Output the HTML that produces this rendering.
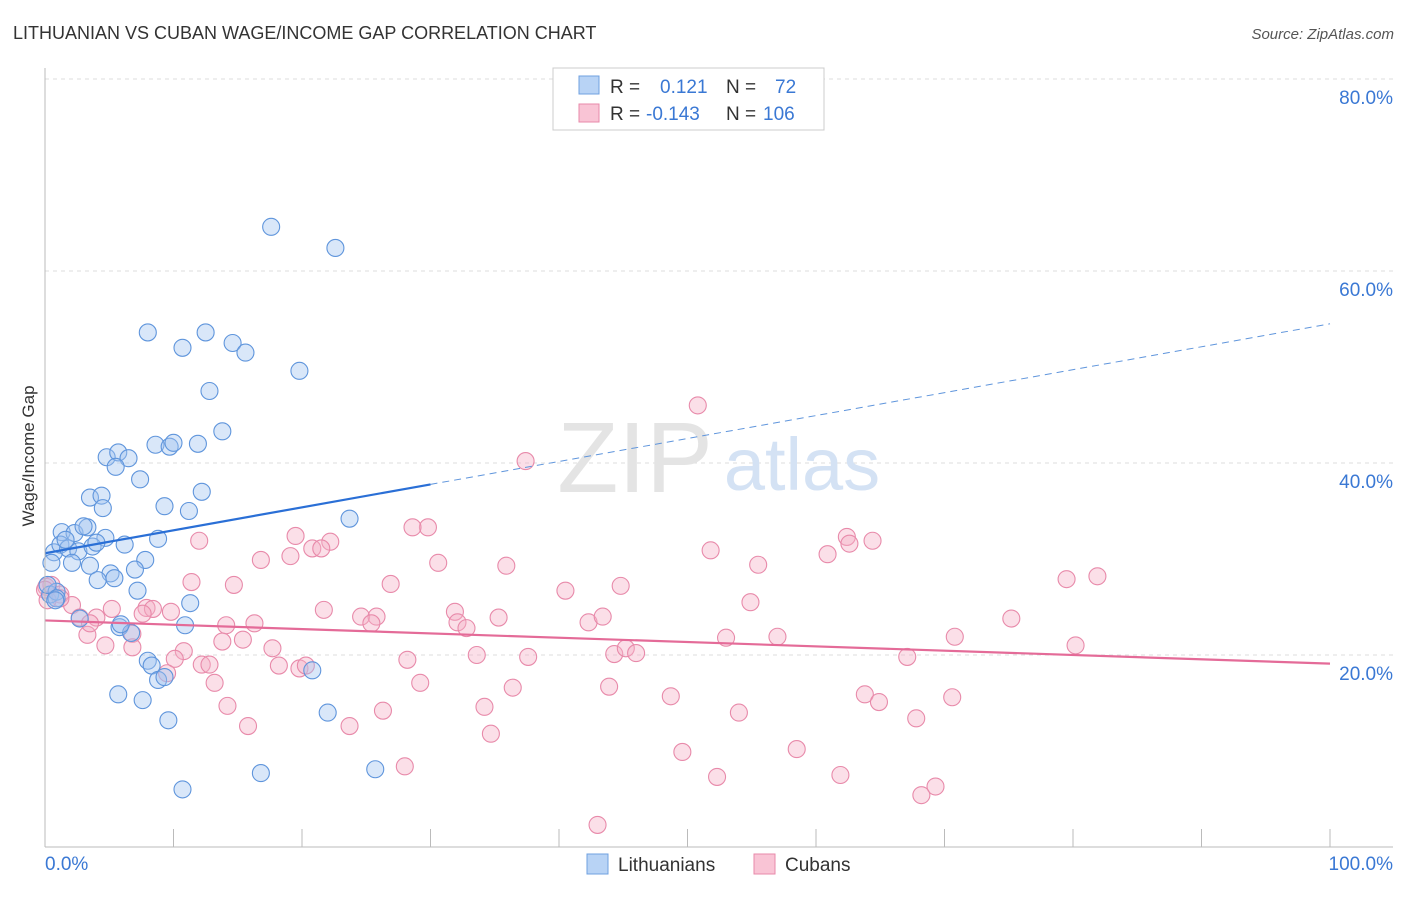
<!DOCTYPE html>
<html><head><meta charset="utf-8"><style>
body{margin:0;background:#fff;font-family:"Liberation Sans",sans-serif}
svg text{font-family:"Liberation Sans",sans-serif}
</style></head><body>
<svg id="chart" width="1406" height="892" xmlns="http://www.w3.org/2000/svg">
<text x="13" y="39" font-size="18" fill="#333">LITHUANIAN VS CUBAN WAGE/INCOME GAP CORRELATION CHART</text>
<text x="1394" y="39" font-size="15" font-style="italic" fill="#555" text-anchor="end">Source: ZipAtlas.com</text>
<text transform="translate(34,456) rotate(-90)" font-size="17" fill="#333" text-anchor="middle">Wage/Income Gap</text>
<g id="grid"></g>
<g id="wm">
<text x="635" y="492" font-size="100" fill="#e4e4e4" font-family="Liberation Serif" text-anchor="middle">ZIP</text>
<text x="802" y="490" font-size="74" fill="#d4e2f4" text-anchor="middle">atlas</text>
</g>
<g id="pts"></g>
<g id="trends"></g>
<g id="axes"></g>
<g>
<rect x="553" y="68" width="271" height="62" fill="#fff" stroke="#ccc"/>
<rect x="579" y="76" width="20" height="18" fill="#b8d3f5" stroke="#6fa0e0"/>
<rect x="579" y="104" width="20" height="18" fill="#f9c4d5" stroke="#e88aaa"/>
<text x="610" y="93" font-size="19" fill="#333">R = <tspan x="660" fill="#3a78d4">0.121</tspan><tspan x="726">N =</tspan><tspan x="775" fill="#3a78d4">72</tspan></text>
<text x="610" y="120" font-size="19" fill="#333">R = <tspan x="646" fill="#3a78d4">-0.143</tspan><tspan x="726">N =</tspan><tspan x="763" fill="#3a78d4">106</tspan></text>
</g>
<g>
<rect x="587" y="854" width="21" height="20" fill="#b8d3f5" stroke="#6fa0e0"/>
<text x="618" y="871" font-size="19" fill="#333">Lithuanians</text>
<rect x="754" y="854" width="21" height="20" fill="#f9c4d5" stroke="#e88aaa"/>
<text x="785" y="871" font-size="19" fill="#333">Cubans</text>
</g>
</svg>
<script>
const yTicks=[20,40,60,80];
const yTickLabels=["20.0%","40.0%","60.0%","80.0%"];
const xTickCount=10;
const xAxisLabels=["0.0%","100.0%"];
const blueX=[17.6,22.6,8.0,12.5,10.7,14.6,15.6,19.8,12.8,13.8,4.8,5.7,6.5,5.5,8.6,9.7,10.0,11.9,7.4,3.5,4.4,4.5,9.3,11.2,12.2,23.7,1.3,2.3,3.3,3.0,4.7,8.8,0.7,1.2,1.8,2.6,3.7,4.0,6.2,7.8,0.5,2.1,3.5,5.1,5.4,4.1,7.0,7.2,0.4,0.9,11.3,2.7,5.8,6.7,10.9,8.0,8.3,8.8,9.3,20.8,5.7,7.6,9.6,22.0,16.8,25.7,10.7,0.2,0.9,1.6,5.9,0.8];
const blueY=[64.6,62.4,53.6,53.6,52.0,52.5,51.5,49.6,47.5,43.3,40.6,41.1,40.5,39.6,41.9,41.7,42.1,42.0,38.3,36.4,36.6,35.3,35.5,35.0,37.0,34.2,32.8,32.7,33.3,33.4,32.2,32.1,30.7,31.5,31.1,30.8,31.3,31.7,31.5,29.9,29.6,29.6,29.3,28.5,28.0,27.8,28.9,26.7,26.3,26.6,25.4,23.8,22.9,22.3,23.1,19.4,18.9,17.4,17.7,18.4,15.9,15.3,13.2,14.0,7.7,8.1,6.0,27.3,25.9,32.0,23.2,25.7];
const pinkX=[50.8,37.4,29.8,28.6,19.5,22.2,20.8,21.5,12.0,16.8,19.1,30.6,35.9,51.8,60.9,62.4,62.6,64.4,55.5,79.5,81.9,11.4,14.7,26.9,40.5,44.8,0.1,0.5,1.2,2.1,2.7,4.0,5.2,7.9,8.4,7.6,9.8,14.1,16.3,21.7,24.6,25.8,25.4,31.9,32.1,32.8,35.3,42.3,43.4,54.9,75.2,3.3,6.8,4.7,6.8,13.8,15.4,17.7,10.8,10.1,12.2,12.8,18.2,19.8,20.3,28.2,33.6,37.6,44.3,45.2,46.0,53.0,57.0,70.8,80.2,67.1,9.5,13.2,29.2,36.4,43.9,48.7,63.8,64.9,70.6,14.2,15.8,23.7,26.3,34.2,34.7,54.0,67.8,49.6,58.5,28.0,52.3,61.9,69.3,68.2,43.0,0,1.2,0.2,3.5];
const pinkY=[46.0,40.2,33.3,33.3,32.4,31.8,31.1,31.1,31.9,29.9,30.3,29.6,29.3,30.9,30.5,32.3,31.6,31.9,29.4,27.9,28.2,27.6,27.3,27.4,26.7,27.2,27.1,27.3,26.3,25.2,23.9,23.9,24.8,24.9,24.8,24.3,24.5,23.1,23.3,24.7,24.0,24.0,23.3,24.5,23.4,22.8,23.9,23.4,24.0,25.5,23.8,22.1,22.2,21.0,20.8,21.4,21.6,20.7,20.4,19.6,19.0,19.0,18.9,18.6,18.9,19.5,20.0,19.8,20.1,20.7,20.2,21.8,21.9,21.9,21.0,19.8,18.1,17.1,17.1,16.6,16.7,15.7,15.9,15.1,15.6,14.7,12.6,12.6,14.2,14.6,11.8,14.0,13.4,9.9,10.2,8.4,7.3,7.5,6.3,5.4,2.3,26.8,25.9,25.7,23.3];
const blueTrend=[30.6,54.5];
const blueSolidEnd=30;
const pinkTrend=[23.6,19.1];
const NS="http://www.w3.org/2000/svg";
const X=v=>45+v*12.85, Y=v=>847-v*9.6;
function mk(tag,attrs,parent){const e=document.createElementNS(NS,tag);for(const k in attrs)e.setAttribute(k,attrs[k]);parent.appendChild(e);return e;}
const grid=document.getElementById('grid'),axes=document.getElementById('axes'),pts=document.getElementById('pts'),tr=document.getElementById('trends');
yTicks.forEach((t,i)=>{
 const l=mk('line',{x1:45,x2:1393,y1:Y(t),y2:Y(t),stroke:'#ddd','stroke-dasharray':'4,4'},grid);
 
 
 const tx=mk('text',{x:1393,y:Y(t)+25,'font-size':19,fill:'#3a78d4','text-anchor':'end'},axes);
 tx.textContent=yTickLabels[i];
 
 
});
const xa=mk('line',{x1:45,x2:1393,y1:847,y2:847,stroke:'#bbb'},axes);


const ya=mk('line',{x1:45,x2:45,y1:68,y2:847,stroke:'#bbb'},axes);


for(let i=1;i<=xTickCount;i++){const t=mk('line',{x1:X(i*10),x2:X(i*10),y1:829,y2:847,stroke:'#bbb'},axes);
 
 }
const xl0=mk('text',{x:45,y:870,'font-size':19,fill:'#3a78d4'},axes);xl0.textContent=xAxisLabels[0];


const xl1=mk('text',{x:1393,y:870,'font-size':19,fill:'#3a78d4','text-anchor':'end'},axes);xl1.textContent=xAxisLabels[1];


function dots(xs,ys,fill,stroke,name){xs.forEach((x,i)=>{const c=mk('circle',{cx:X(x),cy:Y(ys[i]),r:8.5,fill:fill,'fill-opacity':0.4,stroke:stroke,'stroke-width':1.1},pts);
 
 });}
dots(pinkX,pinkY,'#f5b0c6','#e88aaa','cuban-point');
dots(blueX,blueY,'#9fc3f0','#5f95dc','lithuanian-point');
const bAt=x=>blueTrend[0]+(blueTrend[1]-blueTrend[0])*x/100;
const b1=mk('line',{x1:X(0),y1:Y(bAt(0)),x2:X(blueSolidEnd),y2:Y(bAt(blueSolidEnd)),stroke:'#2a6fd6','stroke-width':2.2},tr);


const b2=mk('line',{x1:X(blueSolidEnd),y1:Y(bAt(blueSolidEnd)),x2:X(100),y2:Y(bAt(100)),stroke:'#5f95dc','stroke-width':1,'stroke-dasharray':'7,5'},tr);


const p1=mk('line',{x1:X(0),y1:Y(pinkTrend[0]),x2:X(100),y2:Y(pinkTrend[1]),stroke:'#e46b98','stroke-width':2.2},tr);


</script>
</body></html>
